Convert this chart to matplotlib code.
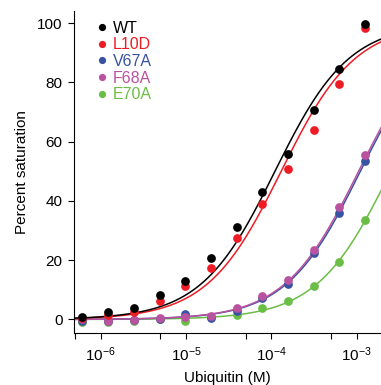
import numpy as np
import matplotlib
matplotlib.use("Agg")
import matplotlib.pyplot as plt
from matplotlib.ticker import LogLocator, NullFormatter

plt.rcParams['font.family'] = ['Liberation Sans', 'DejaVu Sans']
plt.rcParams['mathtext.fontset'] = 'custom'
plt.rcParams['mathtext.rm'] = 'Liberation Sans'
plt.rcParams['mathtext.it'] = 'Liberation Sans:italic'
plt.rcParams['mathtext.bf'] = 'Liberation Sans:bold'

# Ubiquitin concentration (M), two-fold dilution series
conc = np.array([6.1e-7, 1.22e-6, 2.44e-6, 4.88e-6, 9.77e-6, 1.95e-5,
                 3.91e-5, 7.81e-5, 1.56e-4, 3.13e-4, 6.25e-4, 1.25e-3])

labels = ["WT", "L10D", "V67A", "F68A", "E70A"]
colors = ["#000000", "#ee1c25", "#3953a4", "#b9529f", "#6abd45"]

wt = [0.9, 2.5, 4.0, 8.2, 13.0, 20.7, 31.1, 42.9, 55.7, 70.8, 84.6, 99.8]
l10d = [0.5, 1.5, 2.5, 6.1, 11.2, 17.5, 27.5, 38.9, 50.7, 63.8, 79.4, 98.4]
v67a = [-0.5, -0.5, -0.3, 0.3, 1.8, 0.5, 3.0, 7.2, 12.0, 22.3, 36.0, 53.4]
f68a = [0.0, -0.5, -0.3, 0.5, 1.0, 1.3, 3.8, 8.0, 13.4, 23.6, 37.8, 55.6]
e70a = [-0.8, -0.8, -0.5, 0.0, -0.5, 0.8, 1.5, 3.8, 6.2, 11.2, 19.4, 33.5]
series = [wt, l10d, v67a, f68a, e70a]

# fitted single-site binding parameters (Kd in M, Bmax in %)
kd = [1.1e-4, 1.3e-4, 1.1e-3, 1.05e-3, 2.5e-3]
bmax = [100, 100, 100, 100, 100]

fig = plt.figure(figsize=(3.81, 3.85), dpi=100)
ax = fig.add_axes([0.195, 0.134, 0.805, 0.837])

xfit = np.logspace(np.log10(4.9e-7), np.log10(1.92e-3), 300)

for i in [4, 2, 3, 1, 0]:
    yfit = bmax[i] * xfit / (kd[i] + xfit)
    ax.plot(xfit, yfit, color=colors[i], lw=1.1, zorder=2)
    ax.plot(conc, series[i], 'o', color=colors[i], ms=6.3, mec='none', zorder=3)

# legend
handles = [plt.Line2D([], [], ls='none', marker='o', ms=5.2, color=c, mec='none')
           for c in colors]
leg = ax.legend(handles, labels, loc='upper left', bbox_to_anchor=(0.055, 0.99),
                frameon=False, handlelength=0.6, handletextpad=0.35,
                labelspacing=0.1, fontsize=11.5, borderaxespad=0)
for t, c in zip(leg.get_texts(), colors):
    t.set_color(c)

ax.set_xscale('log')
ax.set_xlim(4.9e-7, 1.92e-3)
ax.set_ylim(-4.7, 104)
ax.set_yticks([0, 20, 40, 60, 80, 100])
ax.xaxis.set_major_locator(LogLocator(base=10, numticks=10))
ax.xaxis.set_minor_locator(LogLocator(base=10, subs=[5.0], numticks=10))
ax.xaxis.set_minor_formatter(NullFormatter())

ax.spines['top'].set_visible(False)
ax.spines['right'].set_visible(False)
ax.tick_params(which='both', direction='out', length=4, width=0.8,
               labelsize=11, pad=4.5)

ax.set_xlabel("Ubiquitin (M)", fontsize=11, labelpad=5)
ax.set_ylabel("Percent saturation", fontsize=11, labelpad=6)

fig.savefig("out.png", dpi=100)
